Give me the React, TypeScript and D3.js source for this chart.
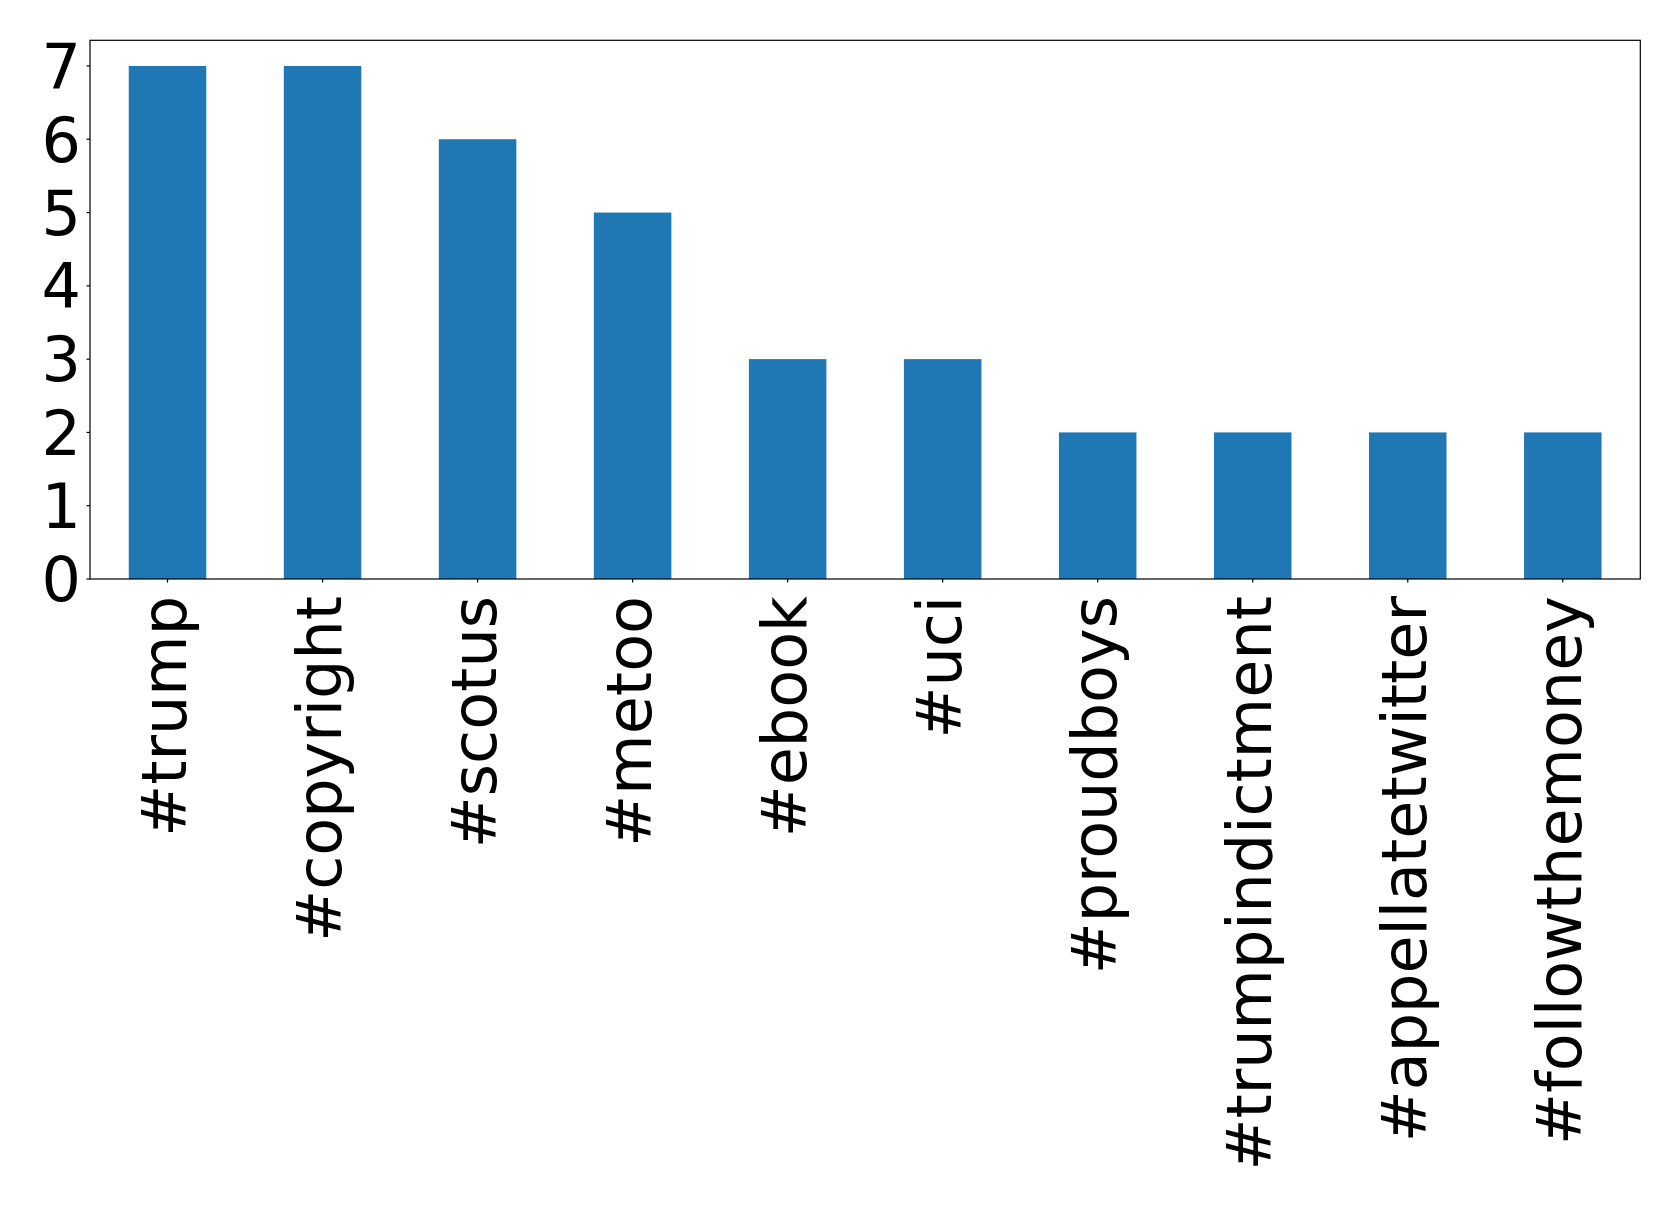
import React from "react";
import * as d3 from "d3";

const categories = ["#trump", "#copyright", "#scotus", "#metoo", "#ebook", "#uci", "#proudboys", "#trumpindictment", "#appellatetwitter", "#followthemoney"];
const counts = [7, 7, 6, 5, 3, 3, 2, 2, 2, 2];
const yTicks = [0, 1, 2, 3, 4, 5, 6, 7];

const W = 1679;
const H = 1207;
const left = 90;
const right = 1640.3;
const top = 40.3;
const bottom = 579;
const FONT = "DejaVu Sans, sans-serif";
const FS = 62;

export default function App() {
  const x = d3.scaleLinear().domain([-0.5, categories.length - 0.5]).range([left, right]);
  const y = d3.scaleLinear().domain([0, 7.35]).range([bottom, top]);
  const bw = x(0.25) - x(0);
  return (
    <svg width={W} height={H} style={{ position: "absolute", left: 0, top: 0, background: "#fff" }} fontFamily={FONT}>
      {categories.map((c, i) => (
        <rect key={c} x={x(i) - bw} y={y(counts[i])} width={bw * 2} height={y(0) - y(counts[i])} fill="#1f77b4" />
      ))}
      <rect x={left} y={top} width={right - left} height={bottom - top} fill="none" stroke="#000" strokeWidth={1.2} />
      {yTicks.map((t) => (
        <g key={t}>
          <line x1={left - 3.5} x2={left} y1={y(t)} y2={y(t)} stroke="#000" strokeWidth={1.2} />
          <text x={left - 9} y={y(t)} dy="0.36em" textAnchor="end" fontSize={FS} fill="#000">{t}</text>
        </g>
      ))}
      {categories.map((c, i) => (
        <g key={c}>
          <line x1={x(i)} x2={x(i)} y1={bottom} y2={bottom + 3.5} stroke="#000" strokeWidth={1.2} />
          <text transform={`translate(${x(i)},${bottom + 17}) rotate(-90)`} textAnchor="end" dy="0.3em" fontSize={FS} fill="#000">{c}</text>
        </g>
      ))}
    </svg>
  );
}
